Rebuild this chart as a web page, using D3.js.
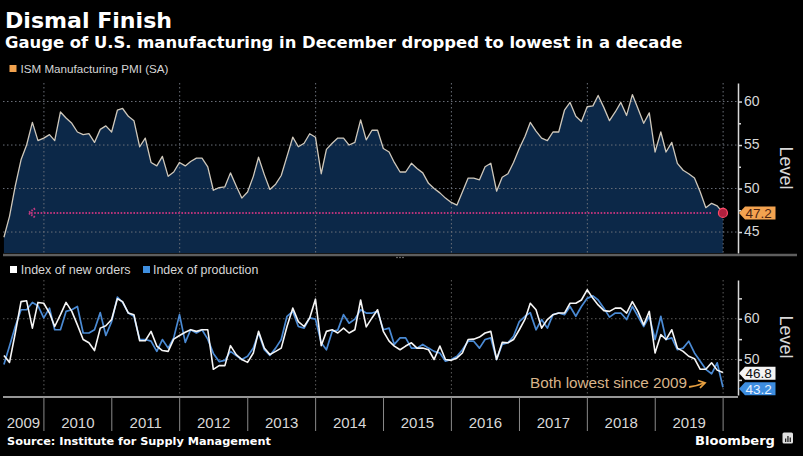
<!DOCTYPE html>
<html>
<head>
<meta charset="utf-8">
<script src="https://cdn.jsdelivr.net/npm/d3@7"></script>
<style>
  html, body { margin: 0; padding: 0; background: #000; }
  svg { display: block; }
</style>
</head>
<body>
<svg id="chart" width="803" height="456"></svg>
<script>
// ISM Manufacturing PMI, monthly, May 2009 - Dec 2019
const pmi = [
  44.4, 46.8, 50.3, 53.3, 55.0, 57.6, 55.5, 55.8,
  56.2, 55.5, 58.8, 58.1, 57.5, 56.5, 56.2, 56.3, 55.3, 56.8, 57.2, 56.5,
  59.0, 59.2, 58.3, 57.8, 54.8, 55.8, 53.0, 52.6, 53.7, 51.4, 51.9, 53.0,
  52.6, 53.1, 53.5, 53.5, 52.5, 49.8, 50.1, 50.2, 51.8, 50.3, 48.9, 49.6,
  51.4, 53.6, 51.6, 49.9, 50.5, 51.5, 53.7, 55.9, 54.8, 55.2, 56.3, 55.9,
  51.7, 54.5, 55.2, 55.8, 55.8, 55.0, 55.3, 57.9, 55.6, 56.7, 56.7, 54.6,
  54.2, 53.0, 51.9, 51.9, 52.9, 52.3, 51.8, 50.6, 50.0, 49.5, 48.9, 48.4,
  48.1, 49.6, 51.2, 51.2, 51.0, 52.5, 52.9, 49.7, 51.3, 51.7, 53.0, 54.6,
  56.0, 57.6, 56.6, 55.8, 55.5, 56.5, 56.5, 59.0, 59.9, 58.3, 57.7, 59.4,
  59.5, 60.7, 59.3, 57.8, 58.8, 59.9, 58.4, 60.8, 59.2, 57.5, 58.7, 54.2,
  56.5, 54.2, 55.3, 52.9, 52.1, 51.7, 51.2, 49.6, 47.8, 48.3, 48.0, 47.2
];

// Index of new orders
const newOrders = [
  51.0, 49.3, 56.5, 64.2, 64.4, 57.7, 64.0, 63.8,
  61.4, 58.1, 61.0, 64.0, 61.8, 58.5, 54.9, 54.1, 52.2, 57.7, 58.3, 59.8,
  64.9, 64.2, 61.4, 61.0, 54.6, 54.6, 56.9, 53.3, 52.2, 52.0, 55.0, 55.9,
  56.7, 57.3, 56.9, 57.3, 57.3, 47.6, 48.5, 48.5, 53.4, 51.2, 50.0, 49.3,
  51.6, 56.9, 52.8, 51.2, 52.0, 52.8, 58.1, 62.6, 59.3, 58.1, 60.2, 64.8,
  53.4, 56.9, 57.3, 56.5, 57.7, 56.5, 57.3, 64.6, 58.0, 60.2, 62.2, 56.9,
  54.5, 53.3, 52.4, 53.3, 54.1, 52.8, 52.8, 52.4, 50.0, 53.3, 50.0, 49.8,
  50.4, 51.6, 54.9, 55.0, 55.5, 56.5, 56.9, 50.0, 54.2, 54.1, 54.9, 57.3,
  59.9, 63.8, 62.2, 57.7, 59.8, 61.0, 61.4, 61.4, 63.8, 63.8, 64.6, 67.1,
  65.0, 63.4, 62.0, 61.8, 62.6, 62.6, 61.4, 64.2, 61.8, 58.5, 61.8, 51.6,
  56.1, 54.9, 57.3, 52.8, 52.0, 50.8, 50.2, 47.6, 47.6, 49.2, 47.4, 46.8
];

// Index of production
const production = [
  48.8, 53.3, 58.1, 62.2, 62.2, 64.0, 63.2, 60.2,
  62.6, 57.3, 57.3, 61.8, 62.2, 63.0, 56.5, 56.5, 57.3, 61.5, 55.9, 59.3,
  65.3, 64.0, 61.4, 60.6, 54.9, 54.9, 54.5, 52.0, 54.9, 52.8, 55.3, 61.0,
  54.2, 57.3, 56.5, 57.3, 55.0, 51.5, 49.5, 49.8, 52.0, 51.0, 50.0, 50.8,
  52.8, 56.5, 52.4, 51.0, 52.8, 54.9, 60.6, 61.8, 58.1, 57.7, 60.2, 59.9,
  54.1, 52.4, 56.9, 57.2, 61.0, 58.9, 59.9, 62.2, 61.4, 61.4, 61.8, 57.3,
  57.7, 53.7, 55.3, 55.3, 52.8, 52.8, 53.7, 52.8, 52.0, 51.6, 49.6, 50.0,
  50.8, 52.4, 54.5, 54.5, 52.8, 54.9, 55.3, 50.0, 53.7, 54.1, 55.7, 59.3,
  60.6, 61.5, 57.3, 59.8, 57.7, 61.0, 61.4, 61.0, 63.0, 60.6, 63.0, 65.0,
  65.6, 64.6, 62.6, 60.4, 61.4, 61.4, 59.8, 63.0, 60.6, 58.1, 60.6, 54.9,
  60.6, 54.9, 55.3, 52.4, 52.8, 54.5, 51.6, 49.6, 47.6, 46.5, 49.2, 43.2
];

// first month of the series (May 2009); points sit at month end
const firstYear = 2009, firstMonth = 4;
const years = d3.range(2009, 2020);
const topTicks = [45, 50, 55, 60];
const topMinor = [47.5, 52.5, 57.5];
const botTicks = [50, 60];
const botMinor = [45, 55, 65];

const dates = pmi.map((_, i) => new Date(firstYear, firstMonth + i + 1, 0));

const svg = d3.select("#chart");
const W = 803, H = 456;
const FONT = "'Liberation Sans', Arial, sans-serif";
const BOLD = "'DejaVu Sans', Verdana, sans-serif";

svg.append("rect").attr("width", W).attr("height", H).attr("fill", "#000");

// scales
const x = d3.scaleTime()
  .domain([new Date(2009, 4, 26), new Date(2020, 2, 21)])
  .range([3, 738]);
const yTop = d3.scaleLinear().domain([42.59, 62.13]).range([253, 83]);
const yBot = d3.scaleLinear().domain([41.3, 69.5]).range([395, 280]);

const defs = svg.append("defs");
defs.append("clipPath").attr("id", "clipTop")
  .append("rect").attr("x", 3).attr("y", 80).attr("width", 735).attr("height", 173);
defs.append("clipPath").attr("id", "clipBot")
  .append("rect").attr("x", 3).attr("y", 276).attr("width", 735).attr("height", 121);

// helper: scale font so that text spans a given width
function fit(sel, w) {
  const len = sel.node().getComputedTextLength();
  const fs = parseFloat(sel.attr("font-size"));
  sel.attr("font-size", (fs * w / len).toFixed(2));
  return sel;
}

// titles
fit(svg.append("text").attr("x", 5).attr("y", 28)
  .attr("font-family", BOLD).attr("font-weight", "bold").attr("font-size", 22)
  .attr("fill", "#fff").text("Dismal Finish"), 167);
fit(svg.append("text").attr("x", 5).attr("y", 47.5)
  .attr("font-family", BOLD).attr("font-weight", "bold").attr("font-size", 15)
  .attr("fill", "#fff")
  .text("Gauge of U.S. manufacturing in December dropped to lowest in a decade"), 678);

// top legend
svg.append("rect").attr("x", 9.5).attr("y", 65).attr("width", 7).attr("height", 7).attr("fill", "#f2a24e");
fit(svg.append("text").attr("x", 20.5).attr("y", 72.5)
  .attr("font-family", FONT).attr("font-size", 12).attr("fill", "#d6d6d6")
  .text("ISM Manufacturing PMI (SA)"), 148);

// ---------- top panel ----------
const gTop = svg.append("g");
const gridYears = d3.timeYear.every(2).range(new Date(2010, 0, 1), new Date(2020, 0, 2));

const area = d3.area()
  .x((d, i) => x(dates[i]))
  .y0(253)
  .y1(d => yTop(d));
const line = d3.line()
  .x((d, i) => x(dates[i]))
  .y(d => yTop(d));

gTop.append("path").datum(pmi)
  .attr("clip-path", "url(#clipTop)")
  .attr("d", area).attr("fill", "#0c2848");

gTop.selectAll(".hgrid").data(topTicks).join("line")
  .attr("x1", 3).attr("x2", 738)
  .attr("y1", d => yTop(d)).attr("y2", d => yTop(d))
  .attr("stroke", "#6a6f78").attr("stroke-width", 1).attr("stroke-dasharray", "1.5,2.5");
gTop.selectAll(".vgrid").data(gridYears).join("line")
  .attr("x1", d => x(d)).attr("x2", d => x(d))
  .attr("y1", 83).attr("y2", 253)
  .attr("stroke", "#6a6f78").attr("stroke-width", 1).attr("stroke-dasharray", "1.5,2.5");

gTop.append("path").datum(pmi)
  .attr("clip-path", "url(#clipTop)")
  .attr("d", line).attr("fill", "none")
  .attr("stroke", "#cfc8bb").attr("stroke-width", 1.3).attr("stroke-linejoin", "round");

// reference line at the latest reading
const last = pmi[pmi.length - 1];
const lastX = x(dates[dates.length - 1]);
const ly = yTop(last);
gTop.append("line").attr("x1", 31).attr("x2", lastX - 11)
  .attr("y1", ly).attr("y2", ly)
  .attr("stroke", "#b8347a").attr("stroke-width", 2).attr("stroke-dasharray", "1.6,1.6");
gTop.append("path")
  .attr("d", `M35,${ly - 4.5}L28.5,${ly}L35,${ly + 4.5}`)
  .attr("fill", "none").attr("stroke", "#c03a80").attr("stroke-width", 2)
  .attr("stroke-dasharray", "1.6,1.2");
gTop.append("circle").attr("cx", lastX).attr("cy", ly).attr("r", 4.5)
  .attr("fill", "#b0203e").attr("stroke", "#ff4a68").attr("stroke-width", 1.2);

// top axis
svg.append("g").attr("transform", "translate(738,0)")
  .call(d3.axisRight(yTop).tickValues(topTicks).tickSize(4).tickSizeOuter(0)
    .tickPadding(2).tickFormat(d3.format("d")));
svg.append("g").attr("transform", "translate(738,0)")
  .call(d3.axisRight(yTop).tickValues(topMinor).tickSize(3).tickFormat(""))
  .call(g => g.select(".domain").remove());

// divider between panels
svg.append("line").attr("x1", 3).attr("x2", 797).attr("y1", 255).attr("y2", 255)
  .attr("stroke", "#5e5e5e").attr("stroke-width", 2.5);
svg.selectAll(".handle").data([-3, 0, 3]).join("circle")
  .attr("cx", d => 400 + d).attr("cy", 257.5).attr("r", 0.8).attr("fill", "#888");

// bottom legend
svg.append("rect").attr("x", 10).attr("y", 266).attr("width", 7).attr("height", 7).attr("fill", "#fff");
fit(svg.append("text").attr("x", 20.7).attr("y", 273.5)
  .attr("font-family", FONT).attr("font-size", 12).attr("fill", "#d6d6d6")
  .text("Index of new orders"), 110);
svg.append("rect").attr("x", 143).attr("y", 266).attr("width", 7).attr("height", 7).attr("fill", "#3f8fe0");
fit(svg.append("text").attr("x", 153).attr("y", 273.5)
  .attr("font-family", FONT).attr("font-size", 12).attr("fill", "#d6d6d6")
  .text("Index of production"), 105.5);

// ---------- bottom panel ----------
const gBot = svg.append("g");
gBot.selectAll(".hgrid").data(botTicks).join("line")
  .attr("x1", 3).attr("x2", 738)
  .attr("y1", d => yBot(d)).attr("y2", d => yBot(d))
  .attr("stroke", "#5c5c5c").attr("stroke-width", 1).attr("stroke-dasharray", "1.5,2.5");
gBot.selectAll(".vgrid").data(gridYears).join("line")
  .attr("x1", d => x(d)).attr("x2", d => x(d))
  .attr("y1", 280).attr("y2", 395)
  .attr("stroke", "#5c5c5c").attr("stroke-width", 1).attr("stroke-dasharray", "1.5,2.5");

const lineB = d3.line()
  .x((d, i) => x(dates[i]))
  .y(d => yBot(d));
gBot.append("path").datum(production)
  .attr("clip-path", "url(#clipBot)")
  .attr("d", lineB).attr("fill", "none")
  .attr("stroke", "#4a8ad4").attr("stroke-width", 1.7).attr("stroke-linejoin", "round");
gBot.append("path").datum(newOrders)
  .attr("clip-path", "url(#clipBot)")
  .attr("d", lineB).attr("fill", "none")
  .attr("stroke", "#f6f6f6").attr("stroke-width", 1.6).attr("stroke-linejoin", "round");

svg.append("g").attr("transform", "translate(738,0)")
  .call(d3.axisRight(yBot).tickValues(botTicks).tickSize(4).tickSizeOuter(0)
    .tickPadding(2).tickFormat(d3.format("d")));
svg.append("g").attr("transform", "translate(738,0)")
  .call(d3.axisRight(yBot).tickValues(botMinor).tickSize(4).tickFormat(""))
  .call(g => g.select(".domain").remove());

svg.selectAll(".tick line, .domain").attr("stroke", "#d8d8d8").attr("stroke-width", 1.5);
svg.selectAll(".tick text").attr("font-family", FONT).attr("font-size", 14)
  .attr("dy", "0.26em").attr("fill", "#d8d8d8");

// annotation
fit(svg.append("text").attr("x", 530).attr("y", 387.5)
  .attr("font-family", FONT).attr("font-size", 15).attr("fill", "#d9b48a")
  .text("Both lowest since 2009"), 157);
svg.append("path").attr("d", "M689,387 Q697,386 704,383")
  .attr("fill", "none").attr("stroke", "#e8a040").attr("stroke-width", 1.8);
svg.append("path").attr("d", "M698,380.5 L705,382.8 L700,388")
  .attr("fill", "none").attr("stroke", "#e8a040").attr("stroke-width", 1.8);

// value tags on the right axis
function tag(y, text, fill, color) {
  const g = svg.append("g");
  g.append("path")
    .attr("d", `M739,${y} L745,${y - 6.5} L775.5,${y - 6.5} L775.5,${y + 6.5} L745,${y + 6.5} Z`)
    .attr("fill", fill);
  g.append("text").attr("x", 745.5).attr("y", y).attr("dy", "0.36em")
    .attr("font-family", FONT).attr("font-size", 13.5).attr("fill", color).text(text);
}
tag(yTop(last), d3.format(".1f")(last), "#f3a350", "#4a2210");
tag(yBot(newOrders[newOrders.length - 1]) + 0.8, d3.format(".1f")(newOrders[newOrders.length - 1]), "#f4f4f4", "#111");
tag(yBot(production[production.length - 1]) + 1.5, d3.format(".1f")(production[production.length - 1]), "#3d8de0", "#e8f2ff");

// "Level" labels
svg.append("text").attr("transform", "translate(780,168) rotate(90)")
  .attr("text-anchor", "middle").attr("font-family", FONT).attr("font-size", 18)
  .attr("fill", "#d8d8d8").text("Level");
svg.append("text").attr("transform", "translate(780,337) rotate(90)")
  .attr("text-anchor", "middle").attr("font-family", FONT).attr("font-size", 18)
  .attr("fill", "#d8d8d8").text("Level");

// ---------- time axis ----------
svg.append("line").attr("x1", 3).attr("x2", 738).attr("y1", 397).attr("y2", 397)
  .attr("stroke", "#c8c8c8").attr("stroke-width", 1.5);
svg.selectAll(".ysep").data(d3.timeYear.range(new Date(2010, 0, 1), new Date(2020, 0, 2))).join("line")
  .attr("x1", d => x(d)).attr("x2", d => x(d))
  .attr("y1", 397).attr("y2", 431)
  .attr("stroke", "#8a8a8a").attr("stroke-width", 1);
svg.selectAll(".ylab").data(years).join("text")
  .attr("x", d => (Math.max(x(new Date(d, 0, 1)), x.range()[0]) + x(new Date(d + 1, 0, 1))) / 2)
  .attr("y", 427.5)
  .attr("text-anchor", "middle")
  .attr("font-family", FONT).attr("font-size", 15).attr("fill", "#d8d8d8")
  .text(d => d);

// footer
fit(svg.append("text").attr("x", 7).attr("y", 445)
  .attr("font-family", BOLD).attr("font-weight", "bold").attr("font-size", 11)
  .attr("fill", "#fff").text("Source: Institute for Supply Management"), 264);
fit(svg.append("text").attr("x", 695).attr("y", 445)
  .attr("font-family", BOLD).attr("font-weight", "bold").attr("font-size", 13)
  .attr("fill", "#fff").text("Bloomberg"), 80);
svg.append("rect").attr("x", 782.5).attr("y", 432.5).attr("width", 10.5).attr("height", 11)
  .attr("rx", 1.5).attr("fill", "#e0e0e0");
svg.selectAll(".logo").data([[785, 438.5], [787.3, 436], [789.6, 437.5]]).join("rect")
  .attr("x", d => d[0]).attr("y", d => d[1]).attr("width", 1.3).attr("height", d => 442 - d[1])
  .attr("fill", "#222");
</script>
</body>
</html>
